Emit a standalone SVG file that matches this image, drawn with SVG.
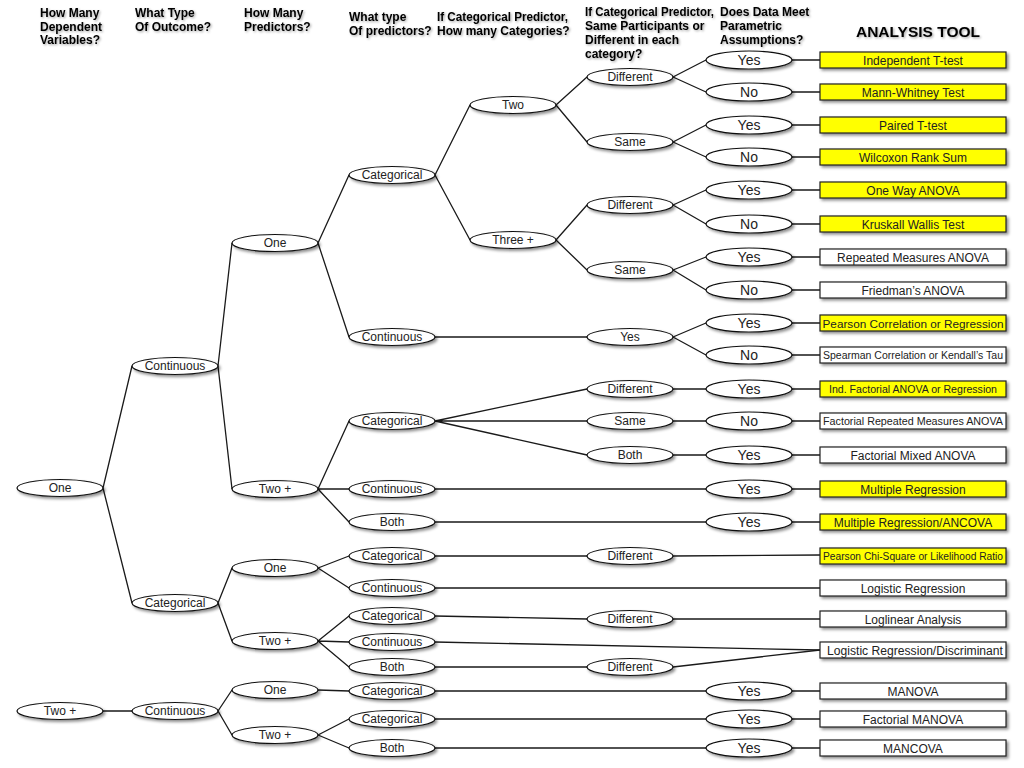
<svg xmlns="http://www.w3.org/2000/svg" width="1024" height="768" viewBox="0 0 1024 768">
<defs>
<filter id="sh" x="-20%" y="-60%" width="150%" height="240%"><feDropShadow dx="2" dy="2" stdDeviation="1.4" flood-color="#000" flood-opacity="0.45"/></filter>
<filter id="tsh" x="-10%" y="-30%" width="130%" height="180%"><feDropShadow dx="1.2" dy="1.2" stdDeviation="0.8" flood-color="#000" flood-opacity="0.35"/></filter>
<style>
.n ellipse{fill:#fff;stroke:#111;stroke-width:1.2;filter:url(#sh)}
.n text{font-family:"Liberation Sans",Arial,sans-serif;font-size:12px;fill:#222;text-anchor:middle}
.y text{font-size:14px}
.b rect{fill:#fff;stroke:#222;stroke-width:1.2;filter:url(#sh)}
.b.yl rect{fill:#ffff00}
.b text{font-family:"Liberation Sans",Arial,sans-serif;font-size:12px;fill:#222;text-anchor:middle}
.b text.s{font-size:10px}
.b text.m{font-size:11px}
.h{font-family:"Liberation Sans",Arial,sans-serif;font-size:12px;font-weight:bold;fill:#000;filter:url(#tsh)}
.h.big{font-size:15.5px;text-anchor:middle}
#conn path{fill:none;stroke:#1a1a1a;stroke-width:1.3}
</style>
</defs>
<rect width="1024" height="768" fill="#fff"/>
<g id="headers">
<text class="h" x="40" y="17">How Many</text><text class="h" x="40" y="30.5">Dependent</text><text class="h" x="40" y="44">Variables?</text>
<text class="h" x="135" y="17">What Type</text><text class="h" x="135" y="30.5">Of Outcome?</text>
<text class="h" x="244" y="17">How Many</text><text class="h" x="244" y="30.5">Predictors?</text>
<text class="h" x="349" y="21">What type</text><text class="h" x="349" y="34.5">Of predictors?</text>
<text class="h" x="437" y="21" textLength="131" lengthAdjust="spacingAndGlyphs">If Categorical Predictor,</text><text class="h" x="437" y="35">How many Categories?</text>
<text class="h" x="585" y="16" textLength="129" lengthAdjust="spacingAndGlyphs">If Categorical Predictor,</text><text class="h" x="585" y="30">Same Participants or</text><text class="h" x="585" y="44">Different in each</text><text class="h" x="585" y="58">category?</text>
<text class="h" x="720" y="16">Does Data Meet</text><text class="h" x="720" y="30">Parametric</text><text class="h" x="720" y="44">Assumptions?</text>
<text class="h big" x="918" y="37">ANALYSIS TOOL</text>
</g>
<g id="conn">
<path d="M103 488L132 366M103 488L132 603M103 711L132 711"/>
<path d="M218 366L232 243M218 366L232 489M218 603L232 568M218 603L232 641M218 711L232 690M218 711L232 735"/>
<path d="M318 243L349 175M318 243L349 337M318 489L349 421M318 489L349 489M318 489L349 522M318 568L349 556M318 568L349 588M318 641L349 616M318 641L349 642M318 641L349 667M318 690L349 691M318 735L349 719M318 735L349 748"/>
<path d="M435 175L470 105M435 175L470 240M435 337L587 337M435 421L587 389M435 421L587 421M435 421L587 455M435 489L706 489M435 522L706 522M435 556L587 556M435 588L820 588M435 616L587 619M435 642L820 650M435 667L587 667M435 691L706 691M435 719L706 719M435 748L706 748"/>
<path d="M556 105L587 77M556 105L587 142M556 240L587 205M556 240L587 270"/>
<path d="M673 77L706 60M673 77L706 92M673 142L706 125M673 142L706 157M673 205L706 190M673 205L706 224M673 270L706 257M673 270L706 290M673 337L706 323M673 337L706 355M673 389L706 389M673 421L706 421M673 455L706 455M673 556L820 555M673 619L820 619M673 667L820 650"/>
<path d="M792 60H820M792 92H820M792 125H820M792 157H820M792 190H820M792 224H820M792 257H820M792 290H820M792 323H820M792 355H820M792 389H820M792 421H820M792 455H820M792 489H820M792 522H820M792 691H820M792 719H820M792 748H820"/>
</g>
<g id="n-dv-one" class="n"><ellipse cx="60" cy="488" rx="43" ry="8.5"/><text x="60" y="492">One</text></g>
<g id="n-dv-two" class="n"><ellipse cx="60" cy="711" rx="43" ry="8.5"/><text x="60" y="715">Two +</text></g>
<g id="n-out-cont" class="n"><ellipse cx="175" cy="366" rx="43" ry="8.5"/><text x="175" y="370">Continuous</text></g>
<g id="n-out-cat" class="n"><ellipse cx="175" cy="603" rx="43" ry="8.5"/><text x="175" y="607">Categorical</text></g>
<g id="n-out-cont2" class="n"><ellipse cx="175" cy="711" rx="43" ry="8.5"/><text x="175" y="715">Continuous</text></g>
<g id="n-p-one1" class="n"><ellipse cx="275" cy="243" rx="43" ry="8.5"/><text x="275" y="247">One</text></g>
<g id="n-p-two1" class="n"><ellipse cx="275" cy="489" rx="43" ry="8.5"/><text x="275" y="493">Two +</text></g>
<g id="n-p-one2" class="n"><ellipse cx="275" cy="568" rx="43" ry="8.5"/><text x="275" y="572">One</text></g>
<g id="n-p-two2" class="n"><ellipse cx="275" cy="641" rx="43" ry="8.5"/><text x="275" y="645">Two +</text></g>
<g id="n-p-one3" class="n"><ellipse cx="275" cy="690" rx="43" ry="8.5"/><text x="275" y="694">One</text></g>
<g id="n-p-two3" class="n"><ellipse cx="275" cy="735" rx="43" ry="8.5"/><text x="275" y="739">Two +</text></g>
<g id="n-t-cat1" class="n"><ellipse cx="392" cy="175" rx="43" ry="8.5"/><text x="392" y="179">Categorical</text></g>
<g id="n-t-cont1" class="n"><ellipse cx="392" cy="337" rx="43" ry="8.5"/><text x="392" y="341">Continuous</text></g>
<g id="n-t-cat2" class="n"><ellipse cx="392" cy="421" rx="43" ry="8.5"/><text x="392" y="425">Categorical</text></g>
<g id="n-t-cont2" class="n"><ellipse cx="392" cy="489" rx="43" ry="8.5"/><text x="392" y="493">Continuous</text></g>
<g id="n-t-both2" class="n"><ellipse cx="392" cy="522" rx="43" ry="8.5"/><text x="392" y="526">Both</text></g>
<g id="n-t-cat3" class="n"><ellipse cx="392" cy="556" rx="43" ry="8.5"/><text x="392" y="560">Categorical</text></g>
<g id="n-t-cont3" class="n"><ellipse cx="392" cy="588" rx="43" ry="8.5"/><text x="392" y="592">Continuous</text></g>
<g id="n-t-cat4" class="n"><ellipse cx="392" cy="616" rx="43" ry="8.5"/><text x="392" y="620">Categorical</text></g>
<g id="n-t-cont4" class="n"><ellipse cx="392" cy="642" rx="43" ry="8.5"/><text x="392" y="646">Continuous</text></g>
<g id="n-t-both4" class="n"><ellipse cx="392" cy="667" rx="43" ry="8.5"/><text x="392" y="671">Both</text></g>
<g id="n-t-cat5" class="n"><ellipse cx="392" cy="691" rx="43" ry="8.5"/><text x="392" y="695">Categorical</text></g>
<g id="n-t-cat6" class="n"><ellipse cx="392" cy="719" rx="43" ry="8.5"/><text x="392" y="723">Categorical</text></g>
<g id="n-t-both6" class="n"><ellipse cx="392" cy="748" rx="43" ry="8.5"/><text x="392" y="752">Both</text></g>
<g id="n-c-two" class="n"><ellipse cx="513" cy="105" rx="43" ry="8.5"/><text x="513" y="109">Two</text></g>
<g id="n-c-three" class="n"><ellipse cx="513" cy="240" rx="43" ry="8.5"/><text x="513" y="244">Three +</text></g>
<g id="n-s-diff1" class="n"><ellipse cx="630" cy="77" rx="43" ry="8.5"/><text x="630" y="81">Different</text></g>
<g id="n-s-same1" class="n"><ellipse cx="630" cy="142" rx="43" ry="8.5"/><text x="630" y="146">Same</text></g>
<g id="n-s-diff2" class="n"><ellipse cx="630" cy="205" rx="43" ry="8.5"/><text x="630" y="209">Different</text></g>
<g id="n-s-same2" class="n"><ellipse cx="630" cy="270" rx="43" ry="8.5"/><text x="630" y="274">Same</text></g>
<g id="n-s-yes" class="n"><ellipse cx="630" cy="337" rx="43" ry="8.5"/><text x="630" y="341">Yes</text></g>
<g id="n-s-diff3" class="n"><ellipse cx="630" cy="389" rx="43" ry="8.5"/><text x="630" y="393">Different</text></g>
<g id="n-s-same3" class="n"><ellipse cx="630" cy="421" rx="43" ry="8.5"/><text x="630" y="425">Same</text></g>
<g id="n-s-both3" class="n"><ellipse cx="630" cy="455" rx="43" ry="8.5"/><text x="630" y="459">Both</text></g>
<g id="n-s-diff4" class="n"><ellipse cx="630" cy="556" rx="43" ry="8.5"/><text x="630" y="560">Different</text></g>
<g id="n-s-diff5" class="n"><ellipse cx="630" cy="619" rx="43" ry="8.5"/><text x="630" y="623">Different</text></g>
<g id="n-s-diff6" class="n"><ellipse cx="630" cy="667" rx="43" ry="8.5"/><text x="630" y="671">Different</text></g>
<g id="n-a-1" class="n y"><ellipse cx="749" cy="60" rx="43" ry="9"/><text x="749" y="65">Yes</text></g>
<g id="n-a-2" class="n y"><ellipse cx="749" cy="92" rx="43" ry="9"/><text x="749" y="97">No</text></g>
<g id="n-a-3" class="n y"><ellipse cx="749" cy="125" rx="43" ry="9"/><text x="749" y="130">Yes</text></g>
<g id="n-a-4" class="n y"><ellipse cx="749" cy="157" rx="43" ry="9"/><text x="749" y="162">No</text></g>
<g id="n-a-5" class="n y"><ellipse cx="749" cy="190" rx="43" ry="9"/><text x="749" y="195">Yes</text></g>
<g id="n-a-6" class="n y"><ellipse cx="749" cy="224" rx="43" ry="9"/><text x="749" y="229">No</text></g>
<g id="n-a-7" class="n y"><ellipse cx="749" cy="257" rx="43" ry="9"/><text x="749" y="262">Yes</text></g>
<g id="n-a-8" class="n y"><ellipse cx="749" cy="290" rx="43" ry="9"/><text x="749" y="295">No</text></g>
<g id="n-a-9" class="n y"><ellipse cx="749" cy="323" rx="43" ry="9"/><text x="749" y="328">Yes</text></g>
<g id="n-a-10" class="n y"><ellipse cx="749" cy="355" rx="43" ry="9"/><text x="749" y="360">No</text></g>
<g id="n-a-11" class="n y"><ellipse cx="749" cy="389" rx="43" ry="9"/><text x="749" y="394">Yes</text></g>
<g id="n-a-12" class="n y"><ellipse cx="749" cy="421" rx="43" ry="9"/><text x="749" y="426">No</text></g>
<g id="n-a-13" class="n y"><ellipse cx="749" cy="455" rx="43" ry="9"/><text x="749" y="460">Yes</text></g>
<g id="n-a-14" class="n y"><ellipse cx="749" cy="489" rx="43" ry="9"/><text x="749" y="494">Yes</text></g>
<g id="n-a-15" class="n y"><ellipse cx="749" cy="522" rx="43" ry="9"/><text x="749" y="527">Yes</text></g>
<g id="n-a-16" class="n y"><ellipse cx="749" cy="691" rx="43" ry="9"/><text x="749" y="696">Yes</text></g>
<g id="n-a-17" class="n y"><ellipse cx="749" cy="719" rx="43" ry="9"/><text x="749" y="724">Yes</text></g>
<g id="n-a-18" class="n y"><ellipse cx="749" cy="748" rx="43" ry="9"/><text x="749" y="753">Yes</text></g>
<g id="b-1" class="b yl"><rect x="820" y="52" width="186" height="16"/><text x="913" y="64.5">Independent T-test</text></g>
<g id="b-2" class="b yl"><rect x="820" y="84" width="186" height="16"/><text x="913" y="96.5">Mann-Whitney Test</text></g>
<g id="b-3" class="b yl"><rect x="820" y="117" width="186" height="16"/><text x="913" y="129.5">Paired T-test</text></g>
<g id="b-4" class="b yl"><rect x="820" y="149" width="186" height="16"/><text x="913" y="161.5">Wilcoxon Rank Sum</text></g>
<g id="b-5" class="b yl"><rect x="820" y="182" width="186" height="16"/><text x="913" y="194.5">One Way ANOVA</text></g>
<g id="b-6" class="b yl"><rect x="820" y="216" width="186" height="16"/><text x="913" y="228.5">Kruskall Wallis Test</text></g>
<g id="b-7" class="b"><rect x="820" y="249" width="186" height="16"/><text x="913" y="261.5">Repeated Measures ANOVA</text></g>
<g id="b-8" class="b"><rect x="820" y="282" width="186" height="16"/><text x="913" y="294.5">Friedman’s ANOVA</text></g>
<g id="b-9" class="b yl"><rect x="820" y="315" width="186" height="16"/><text class="m" x="913" y="327.5" textLength="181" lengthAdjust="spacingAndGlyphs">Pearson Correlation or Regression</text></g>
<g id="b-10" class="b"><rect x="820" y="347" width="186" height="16"/><text class="s" x="913" y="359" textLength="180" lengthAdjust="spacingAndGlyphs">Spearman Correlation or Kendall’s Tau</text></g>
<g id="b-11" class="b yl"><rect x="820" y="381" width="186" height="16"/><text class="m" x="913" y="393" textLength="168" lengthAdjust="spacingAndGlyphs">Ind. Factorial ANOVA or Regression</text></g>
<g id="b-12" class="b"><rect x="820" y="413" width="186" height="16"/><text class="s" x="913" y="425" textLength="180" lengthAdjust="spacingAndGlyphs">Factorial Repeated Measures ANOVA</text></g>
<g id="b-13" class="b"><rect x="820" y="447" width="186" height="16"/><text x="913" y="459.5">Factorial Mixed ANOVA</text></g>
<g id="b-14" class="b yl"><rect x="820" y="481" width="186" height="16"/><text x="913" y="493.5">Multiple Regression</text></g>
<g id="b-15" class="b yl"><rect x="820" y="514" width="186" height="16"/><text x="913" y="526.5">Multiple Regression/ANCOVA</text></g>
<g id="b-16" class="b yl"><rect x="820" y="548" width="186" height="16"/><text class="s" x="913" y="560" textLength="180" lengthAdjust="spacingAndGlyphs">Pearson Chi-Square or Likelihood Ratio</text></g>
<g id="b-17" class="b"><rect x="820" y="580" width="186" height="16"/><text x="913" y="592.5">Logistic Regression</text></g>
<g id="b-18" class="b"><rect x="820" y="611" width="186" height="16"/><text x="913" y="623.5">Loglinear Analysis</text></g>
<g id="b-19" class="b"><rect x="820" y="642" width="186" height="16"/><text x="915" y="654.5" textLength="176" lengthAdjust="spacingAndGlyphs">Logistic Regression/Discriminant</text></g>
<g id="b-20" class="b"><rect x="820" y="683" width="186" height="16"/><text x="913" y="695.5">MANOVA</text></g>
<g id="b-21" class="b"><rect x="820" y="711" width="186" height="16"/><text x="913" y="723.5">Factorial MANOVA</text></g>
<g id="b-22" class="b"><rect x="820" y="740" width="186" height="16"/><text x="913" y="752.5">MANCOVA</text></g>
</svg>
